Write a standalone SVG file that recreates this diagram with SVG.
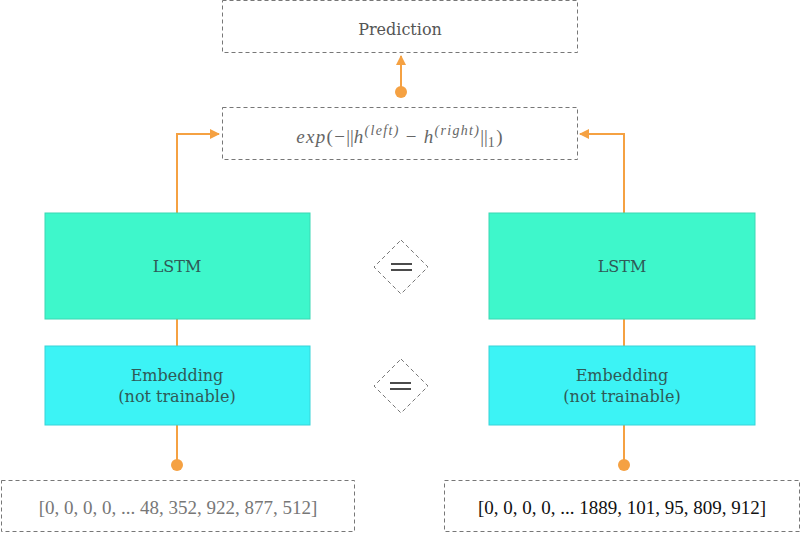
<svg xmlns="http://www.w3.org/2000/svg" width="800" height="533" viewBox="0 0 800 533">
<style>
.dash{fill:#fff;stroke:#777;stroke-width:1;stroke-dasharray:4,3}
.lstm{fill:#3ef7cb;stroke:#3ad8b4;stroke-width:1}
.emb{fill:#3cf3f5;stroke:#36d4d8;stroke-width:1}
.lbl{font-size:16px;fill:#2f5a57;text-anchor:middle}
.num{font-size:19px;text-anchor:middle}
.conn{fill:none;stroke:#f5a142;stroke-width:2}
.dot{fill:#f5a142}
</style>
<defs>
<marker id="ah" viewBox="0 0 10 10" refX="9" refY="5" markerWidth="10" markerHeight="10" markerUnits="userSpaceOnUse" orient="auto">
<path d="M0,0 L10,5 L0,10 z" fill="#f5a142"/>
</marker>
</defs>
<g id="connectors">
<path class="conn" d="M401,92 V56" marker-end="url(#ah)"/>
<circle class="dot" cx="401" cy="92" r="6"/>
<path class="conn" d="M177,213 V134 H219" marker-end="url(#ah)"/>
<path class="conn" d="M624,213 V134 H580" marker-end="url(#ah)"/>
<path class="conn" d="M177,319 V346"/>
<path class="conn" d="M624,319 V346"/>
<path class="conn" d="M177,425 V465"/>
<circle class="dot" cx="177" cy="465" r="6"/>
<path class="conn" d="M624,425 V465"/>
<circle class="dot" cx="624" cy="465" r="6"/>
</g>
<g font-family="DejaVu Serif, Liberation Serif, serif">
<g id="prediction">
<rect class="dash" x="222.5" y="0.5" width="355" height="52"/>
<text class="lbl" x="400" y="35" style="fill:#555">Prediction</text>
</g>
<g id="lstm-left">
<rect class="lstm" x="45" y="213" width="265" height="106"/>
<text class="lbl" x="177" y="272">LSTM</text>
</g>
<g id="lstm-right">
<rect class="lstm" x="489" y="213" width="266" height="106"/>
<text class="lbl" x="622" y="272">LSTM</text>
</g>
<g id="emb-left">
<rect class="emb" x="45" y="346" width="265" height="79"/>
<text class="lbl" x="177" y="381">Embedding</text>
<text class="lbl" x="177" y="402">(not trainable)</text>
</g>
<g id="emb-right">
<rect class="emb" x="489" y="346" width="266" height="79"/>
<text class="lbl" x="622" y="381">Embedding</text>
<text class="lbl" x="622" y="402">(not trainable)</text>
</g>
</g>
<g font-family="Liberation Serif, serif">
<g id="distance">
<rect class="dash" x="222.5" y="107.5" width="355" height="52"/>
<text x="400" y="143" font-size="19" fill="#666" text-anchor="middle" letter-spacing="1.3"><tspan font-style="italic">exp</tspan>(−<tspan letter-spacing="0">||</tspan><tspan font-style="italic">h</tspan><tspan font-size="14" dy="-8" font-style="italic">(left)</tspan><tspan dy="8"> − </tspan><tspan font-style="italic">h</tspan><tspan font-size="14" dy="-8" font-style="italic">(right)</tspan><tspan dy="8" letter-spacing="0">||</tspan><tspan font-size="14" dy="4">1</tspan><tspan dy="-4">)</tspan></text>
</g>
<g id="input-left">
<rect class="dash" x="1.5" y="480.5" width="353" height="51"/>
<text class="num" x="178" y="514" fill="#777">[0, 0, 0, 0, ... 48, 352, 922, 877, 512]</text>
</g>
<g id="input-right">
<rect class="dash" x="444.5" y="480.5" width="355" height="51"/>
<text class="num" x="622" y="514" fill="#111">[0, 0, 0, 0, ... 1889, 101, 95, 809, 912]</text>
</g>
</g>
<g id="eq-lstm">
<polygon class="dash" points="401,240 428,267 401,294 374,267"/>
<path d="M391,264 H412 M391,270 H412" stroke="#111" stroke-width="1.5"/>
</g>
<g id="eq-emb">
<polygon class="dash" points="401,359 428,386 401,413 374,386"/>
<path d="M390,383 H411 M390,389 H411" stroke="#111" stroke-width="1.5"/>
</g>
</svg>
